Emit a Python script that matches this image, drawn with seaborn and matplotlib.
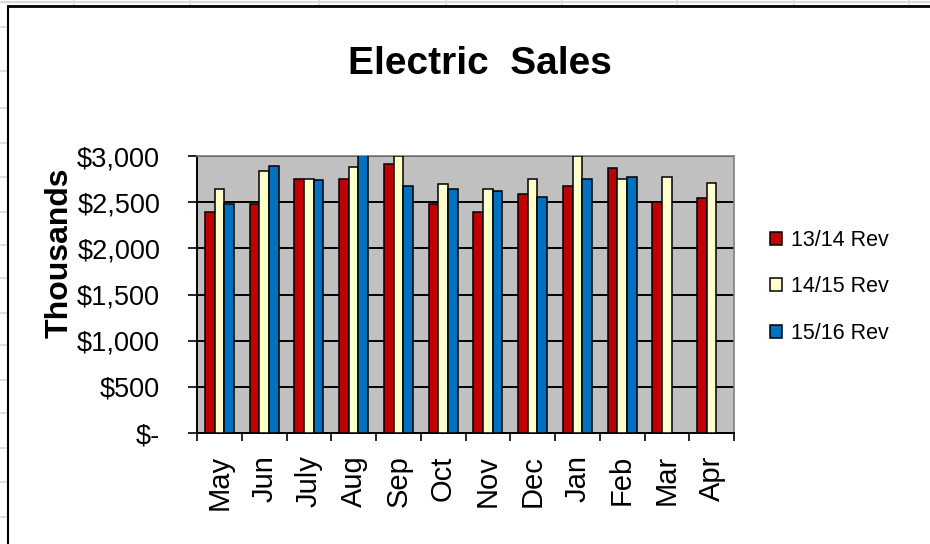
import numpy as np
import pandas as pd
import seaborn as sns
import matplotlib.pyplot as plt
from matplotlib.lines import Line2D
from matplotlib.ticker import FixedLocator

# Data (thousands of dollars)
months = ["May", "Jun", "July", "Aug", "Sep", "Oct", "Nov", "Dec", "Jan", "Feb", "Mar", "Apr"]
series = ["13/14 Rev", "14/15 Rev", "15/16 Rev"]
rev_1314 = [2395, 2475, 2755, 2755, 2910, 2475, 2390, 2585, 2670, 2865, 2500, 2540]
rev_1415 = [2645, 2840, 2755, 2885, 3000, 2695, 2645, 2755, 2995, 2755, 2775, 2710]
rev_1516 = [2475, 2890, 2735, 3050, 2670, 2645, 2625, 2560, 2755, 2775, np.nan, np.nan]
colors = ["#C00000", "#FFFFCC", "#0070C0"]
ytick_vals = [0, 500, 1000, 1500, 2000, 2500, 3000]
ytick_labels = ["$-", "$500", "$1,000", "$1,500", "$2,000", "$2,500", "$3,000"]

df = pd.DataFrame({
    "month": months * 3,
    "series": [s for s in series for _ in months],
    "rev": rev_1314 + rev_1415 + rev_1516,
})

sns.set_style("white")
plt.rcParams["font.family"] = ["Liberation Sans", "DejaVu Sans"]
plt.rcParams.update({"text.color": "black", "axes.labelcolor": "black",
                     "xtick.color": "black", "ytick.color": "black"})

fig = plt.figure(figsize=(9.3, 5.44), dpi=100)
W, H = 930, 544
ax = fig.add_axes([197 / W, 1 - 433 / H, (734 - 197) / W, (433 - 156) / H])

sns.barplot(data=df, x="month", y="rev", hue="series", order=months,
            hue_order=series, palette=colors, errorbar=None, width=0.65,
            saturation=1, edgecolor="black", linewidth=1.1, ax=ax, zorder=3)

ax.set_facecolor("#C0C0C0")
ax.set_ylim(0, 3000)
ax.set_xlim(-0.5, len(months) - 0.5)
ax.set_yticks(ytick_vals)
ax.set_yticklabels(ytick_labels)
ax.yaxis.grid(True, color="black", linewidth=1.4, zorder=1)
ax.set_axisbelow(True)
ax.set_xlabel("")
ax.set_ylabel("Thousands", fontsize=23, fontweight="bold")
ax.yaxis.set_label_coords(-0.227, 0.65)

ax.tick_params(axis="y", which="major", direction="out", length=6.5, width=1.2,
               color="black", labelsize=19.5, pad=20, left=True)
ax.tick_params(axis="x", which="major", length=0, labelsize=21, pad=16,
               rotation=90)
ax.xaxis.set_minor_locator(FixedLocator(np.arange(-0.5, len(months), 1)))
ax.tick_params(axis="x", which="minor", direction="out", length=6, width=1.2,
               color="black", bottom=True)

for side in ["left", "bottom"]:
    ax.spines[side].set_color("black")
    ax.spines[side].set_linewidth(1.4)
for side in ["top", "right"]:
    ax.spines[side].set_visible(True)
    ax.spines[side].set_color("#808080")
    ax.spines[side].set_linewidth(1.2)

# Legend
handles, labels = ax.get_legend_handles_labels()
ax.legend(handles, labels, loc="center left",
          bbox_to_anchor=(751 / W, 1 - 287 / H), bbox_transform=fig.transFigure,
          frameon=False, fontsize=15.5, handlelength=0.55, handleheight=0.55,
          handletextpad=0.4, labelspacing=1.2)

fig.text(480 / W, 1 - 64 / H, "Electric  Sales", ha="center", va="center",
         fontsize=28, fontweight="bold")

# Spreadsheet background and chart border
grid_c = "#D9D9D9"
fig.add_artist(Line2D([0, 1], [1 - 2 / H, 1 - 2 / H], color=grid_c, lw=1.5))
for gx in [74, 190, 319, 446, 562, 677, 794, 909]:
    fig.add_artist(Line2D([gx / W, gx / W], [1, 1 - 6 / H], color=grid_c, lw=1.2))
for gy in [27, 71, 108, 143, 177, 212, 245, 278, 313, 345, 380, 413, 448, 482, 517]:
    fig.add_artist(Line2D([0, 8 / W], [1 - gy / H, 1 - gy / H], color=grid_c, lw=1.2))
fig.add_artist(Line2D([8 / W, 8 / W], [0, 1 - 6 / H], color="black", lw=1.5))
fig.add_artist(Line2D([8 / W, 1], [1 - 6 / H, 1 - 6 / H], color="black", lw=2))

fig.savefig("out.png", dpi=100)
